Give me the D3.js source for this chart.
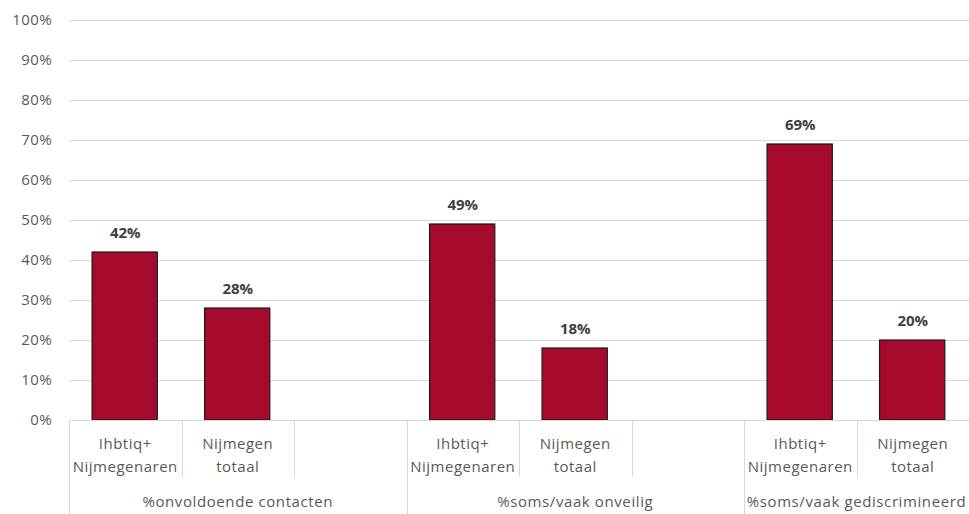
<!DOCTYPE html>
<html>
<head>
<meta charset="utf-8">
<script src="https://cdn.jsdelivr.net/npm/d3@7"></script>
<style>
  body { margin: 0; background: #fff; }
  svg text { font-family: "Open Sans", Lato, sans-serif; }
</style>
</head>
<body>
<div id="plot"></div>
<script>
var groups = ["%onvoldoende contacten", "%soms/vaak onveilig", "%soms/vaak gediscrimineerd"];
var subcats = [["Ihbtiq+", "Nijmegenaren"], ["Nijmegen", "totaal"]];
var lhbtiq = [42, 49, 69];
var nijmegen = [28, 18, 20];
var yTicks = [0, 10, 20, 30, 40, 50, 60, 70, 80, 90, 100];

var W = 969, H = 514;
var plotLeft = 69, plotRight = 969, plotTop = 20, plotBottom = 420;

// slots: each group has its two bars plus one empty spacer (none after the last group)
var slots = [];
groups.forEach(function(g, gi) {
    subcats.forEach(function(s, si) {
        slots.push({ id: gi + "-" + si, group: gi, sub: si,
                     value: si === 0 ? lhbtiq[gi] : nijmegen[gi] });
    });
    if (gi < groups.length - 1) slots.push({ id: gi + "-gap", group: gi, sub: -1 });
});

var svg = d3.select("#plot").append("svg")
    .attr("width", W).attr("height", H)
    .attr("viewBox", "0 0 " + W + " " + H);

var x = d3.scaleBand().domain(slots.map(function(d) { return d.id; }))
    .range([plotLeft, plotRight]).padding(0);
var y = d3.scaleLinear().domain([0, 100]).range([plotBottom, plotTop]);
var bw = x.bandwidth();

// Y axis with gridlines
var gy = svg.append("g").attr("transform", "translate(" + plotLeft + ",0)")
    .call(d3.axisLeft(y).tickValues(yTicks).tickSize(-(plotRight - plotLeft))
        .tickPadding(17).tickFormat(function(d) { return d + "%"; }));
gy.select(".domain").remove();
gy.selectAll(".tick line").attr("stroke", "#d9d9d9").attr("stroke-width", 1);
gy.selectAll(".tick text").attr("fill", "#595959")
    .style("font-size", "15px").style("letter-spacing", "0.4px");

// bars
var bars = slots.filter(function(d) { return d.sub >= 0; });
svg.append("g").selectAll("rect").data(bars).join("rect")
    .attr("x", function(d) { return x(d.id) + bw * 0.205; })
    .attr("width", bw * 0.58)
    .attr("y", function(d) { return y(d.value); })
    .attr("height", function(d) { return y(0) - y(d.value); })
    .attr("fill", "#a50a2c")
    .attr("stroke", "#1a1a1a").attr("stroke-width", 1.2);

// value labels
svg.append("g").selectAll("text").data(bars).join("text")
    .attr("x", function(d) { return x(d.id) + bw / 2; })
    .attr("y", function(d) { return y(d.value) - 14; })
    .attr("text-anchor", "middle")
    .attr("fill", "#404040").style("font-size", "15px").style("font-weight", "bold")
    .text(function(d) { return d.value + "%"; });

// category axis
var gx = svg.append("g");
gx.append("line").attr("x1", plotLeft).attr("x2", plotRight)
    .attr("y1", plotBottom + 0.5).attr("y2", plotBottom + 0.5).attr("stroke", "#d9d9d9");

// separators
var seps = slots.map(function(d, i) {
    var first = i === 0 || slots[i - 1].group !== d.group;
    return { x: x(d.id), full: first };
});
gx.selectAll("line.sep").data(seps).join("line").attr("class", "sep")
    .attr("x1", function(d) { return Math.round(d.x) + 0.5; })
    .attr("x2", function(d) { return Math.round(d.x) + 0.5; })
    .attr("y1", plotBottom).attr("y2", function(d) { return d.full ? H : 477; })
    .attr("stroke", "#d9d9d9");

// subcategory labels
var lab = gx.selectAll("text.sub").data(bars).join("text").attr("class", "sub")
    .attr("text-anchor", "middle").attr("fill", "#595959")
    .style("font-size", "15px").style("letter-spacing", "0.5px");
lab.each(function(d) {
    var t = d3.select(this);
    subcats[d.sub].forEach(function(line, li) {
        t.append("tspan").attr("x", x(d.id) + bw / 2).attr("y", 449 + li * 23).text(line);
    });
});

// group labels
gx.selectAll("text.grp").data(groups).join("text").attr("class", "grp")
    .attr("x", function(d, gi) {
        var ids = slots.filter(function(s) { return s.group === gi; });
        var a = x(ids[0].id), b = x(ids[ids.length - 1].id) + bw;
        if (gi === groups.length - 1) b = plotRight;
        return (a + b) / 2;
    })
    .attr("y", 507).attr("text-anchor", "middle")
    .attr("fill", "#595959").style("font-size", "15px").style("letter-spacing", "0.6px")
    .text(function(d) { return d; });
</script>
</body>
</html>
